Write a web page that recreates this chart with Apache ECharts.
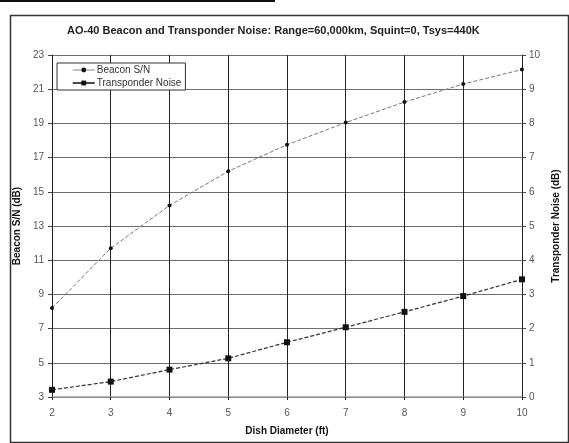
<!DOCTYPE html>
<html>
<head>
<meta charset="utf-8">
<script src="https://cdn.jsdelivr.net/npm/echarts@6/dist/echarts.min.js"></script>
<style>html,body{margin:0;padding:0;background:#fff;}#c{width:569px;height:443px;}</style>
</head>
<body>
<div id="c"></div>
<script>
const titleText = 'AO-40 Beacon and Transponder Noise: Range=60,000km, Squint=0, Tsys=440K';
const diameters = [2, 3, 4, 5, 6, 7, 8, 9, 10];
const beaconSN = [8.2, 11.7, 14.2, 16.2, 17.75, 19.05, 20.25, 21.3, 22.15];
const transponderNoise = [0.21, 0.45, 0.8, 1.13, 1.6, 2.04, 2.49, 2.95, 3.44];
const seriesNames = ['Beacon S/N', 'Transponder Noise'];
const xName = 'Dish Diameter (ft)';
const yLeftName = 'Beacon S/N (dB)';
const yRightName = 'Transponder Noise (dB)';

const FONT = "'Liberation Sans', Arial, sans-serif";
const chart = echarts.init(document.getElementById('c'), null, {renderer: 'canvas'});
const pairs = (ys) => diameters.map((x, i) => [x, ys[i]]);
const labelStyle = {color: '#555', fontSize: 10, fontFamily: FONT};
const nameStyle = {color: '#111', fontSize: 10, fontWeight: 'bold', fontFamily: FONT};

chart.setOption({
  animation: false,
  backgroundColor: '#fff',
  title: {
    text: titleText,
    left: 62,
    top: 20,
    textStyle: {fontSize: 11, fontWeight: 'bold', color: '#222', fontFamily: FONT}
  },
  graphic: [
    {type: 'rect', left: 0, top: 0, shape: {width: 275, height: 2}, style: {fill: '#111'}, silent: true},
    {type: 'rect', left: 8, top: 13, shape: {width: 558, height: 427}, style: {fill: 'none', stroke: '#333', lineWidth: 1.5}, silent: true}
  ],
  grid: {left: 52, right: 45, top: 55, bottom: 46, containLabel: false},
  legend: {
    orient: 'vertical',
    left: 57,
    top: 63,
    data: [
      {name: seriesNames[0], itemStyle: {color: '#111'}, lineStyle: {color: '#888', type: 'solid', width: 1}},
      {name: seriesNames[1], itemStyle: {color: '#111'}, lineStyle: {color: '#111', type: 'solid', width: 1.5}}
    ],
    backgroundColor: '#fff',
    borderColor: '#333',
    borderWidth: 1,
    padding: [2, 4, 2, 15],
    itemWidth: 22,
    itemHeight: 6,
    itemGap: 3,
    textStyle: {color: '#333', fontSize: 10, fontFamily: FONT, padding: [0, 0, 0, -3]}
  },
  xAxis: {
    type: 'value',
    min: 2, max: 10, interval: 1,
    name: xName,
    nameLocation: 'middle',
    nameGap: 29,
    nameTextStyle: nameStyle,
    axisLine: {show: true, lineStyle: {color: '#999', width: 1.5}},
    axisTick: {show: true, length: 3, lineStyle: {color: '#222'}},
    axisLabel: Object.assign({margin: 11}, labelStyle),
    splitLine: {show: true, lineStyle: {color: '#222', width: 1}}
  },
  yAxis: [
    {
      type: 'value',
      position: 'left',
      min: 3, max: 23, interval: 2,
      name: yLeftName,
      nameLocation: 'middle',
      nameRotate: 90,
      nameGap: 28,
      nameTextStyle: nameStyle,
      axisLine: {show: true, lineStyle: {color: '#222', width: 1}},
      axisTick: {show: true, length: 4, lineStyle: {color: '#444'}},
      axisLabel: Object.assign({margin: 8}, labelStyle),
      splitLine: {show: true, lineStyle: {color: '#6e6e6e', width: 1}}
    },
    {
      type: 'value',
      position: 'right',
      min: 0, max: 10, interval: 1,
      name: yRightName,
      nameLocation: 'middle',
      nameRotate: 90,
      nameGap: 25,
      nameTextStyle: nameStyle,
      axisLine: {show: true, lineStyle: {color: '#222', width: 1}},
      axisTick: {show: true, length: 4, lineStyle: {color: '#444'}},
      axisLabel: Object.assign({margin: 7}, labelStyle),
      splitLine: {show: false}
    }
  ],
  series: [
    {
      name: seriesNames[0],
      type: 'line',
      yAxisIndex: 0,
      data: pairs(beaconSN),
      symbol: 'circle',
      symbolSize: 4,
      itemStyle: {color: '#111'},
      lineStyle: {color: '#777', width: 1, type: [4, 2]},
      z: 5
    },
    {
      name: seriesNames[1],
      type: 'line',
      yAxisIndex: 1,
      data: pairs(transponderNoise),
      symbol: 'rect',
      symbolSize: 6,
      itemStyle: {color: '#111'},
      lineStyle: {color: '#333', width: 1.2, type: [4, 2]},
      z: 5
    }
  ]
});
</script>
</body>
</html>
